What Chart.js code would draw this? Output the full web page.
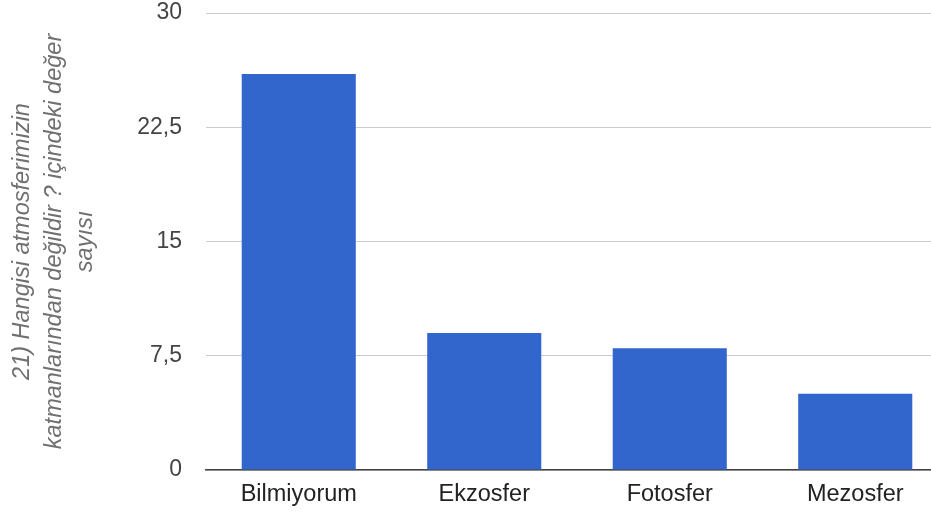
<!DOCTYPE html>
<html>
<head>
<meta charset="utf-8">
<script src="https://cdn.jsdelivr.net/npm/chart.js@4/dist/chart.umd.min.js"></script>
<style>
    html, body { margin: 0; padding: 0; background: #fff; overflow: hidden; }
    #chart { position: relative; width: 950px; height: 516px; }
</style>
</head>
<body>
<div id="chart"><canvas id="ctx"></canvas></div>
<script>
var categories = ['Bilmiyorum', 'Ekzosfer', 'Fotosfer', 'Mezosfer'];
var counts = [26, 9, 8, 5];
var yTicks = [0, 7.5, 15, 22.5, 30];
var yTickLabels = ['0', '7,5', '15', '22,5', '30'];
var axisTitle = ['21) Hangisi atmosferimizin', 'katmanlarından değildir ? içindeki değer', 'sayısı'];

new Chart(document.getElementById('ctx'), {
    type: 'bar',
    data: {
        labels: categories,
        datasets: [{
            label: 'Sayı',
            data: counts,
            backgroundColor: '#3366cc',
            borderWidth: 0,
            barPercentage: 0.615,
            categoryPercentage: 1
        }]
    },
    options: {
        responsive: true,
        maintainAspectRatio: false,
        animation: false,
        layout: { padding: { top: 13, right: 2, left: 0, bottom: 0 } },
        plugins: {
            legend: { display: false },
            tooltip: { enabled: false }
        },
        scales: {
            x: {
                grid: { display: false, drawTicks: false },
                border: { display: true, color: '#444', width: 1.5 },
                ticks: {
                    color: '#222',
                    padding: 10,
                    font: { family: 'Liberation Sans, Arial, sans-serif', size: 23.5 }
                },
                afterFit: function(scale) {
                    scale.height = 46;
                    scale.paddingLeft = 0;
                    scale.paddingRight = 0;
                }
            },
            y: {
                min: 0,
                max: 30,
                grid: { color: '#cccccc', drawTicks: false },
                border: { display: false },
                afterBuildTicks: function(scale) {
                    scale.ticks = yTicks.map(function(v) { return { value: v }; });
                },
                ticks: {
                    color: '#444',
                    padding: 24,
                    font: { family: 'Liberation Sans, Arial, sans-serif', size: 23 },
                    callback: function(value, index) { return yTickLabels[index]; }
                },
                title: {
                    display: true,
                    text: axisTitle,
                    color: '#707070',
                    padding: { top: 7, bottom: 0 },
                    font: { family: 'Liberation Sans, Arial, sans-serif', size: 23.5, style: 'italic', lineHeight: '31.5px' }
                },
                afterFit: function(scale) {
                    scale.width = 206;
                    scale.paddingTop = 0;
                    scale.paddingBottom = 0;
                }
            }
        }
    }
});
</script>
</body>
</html>
